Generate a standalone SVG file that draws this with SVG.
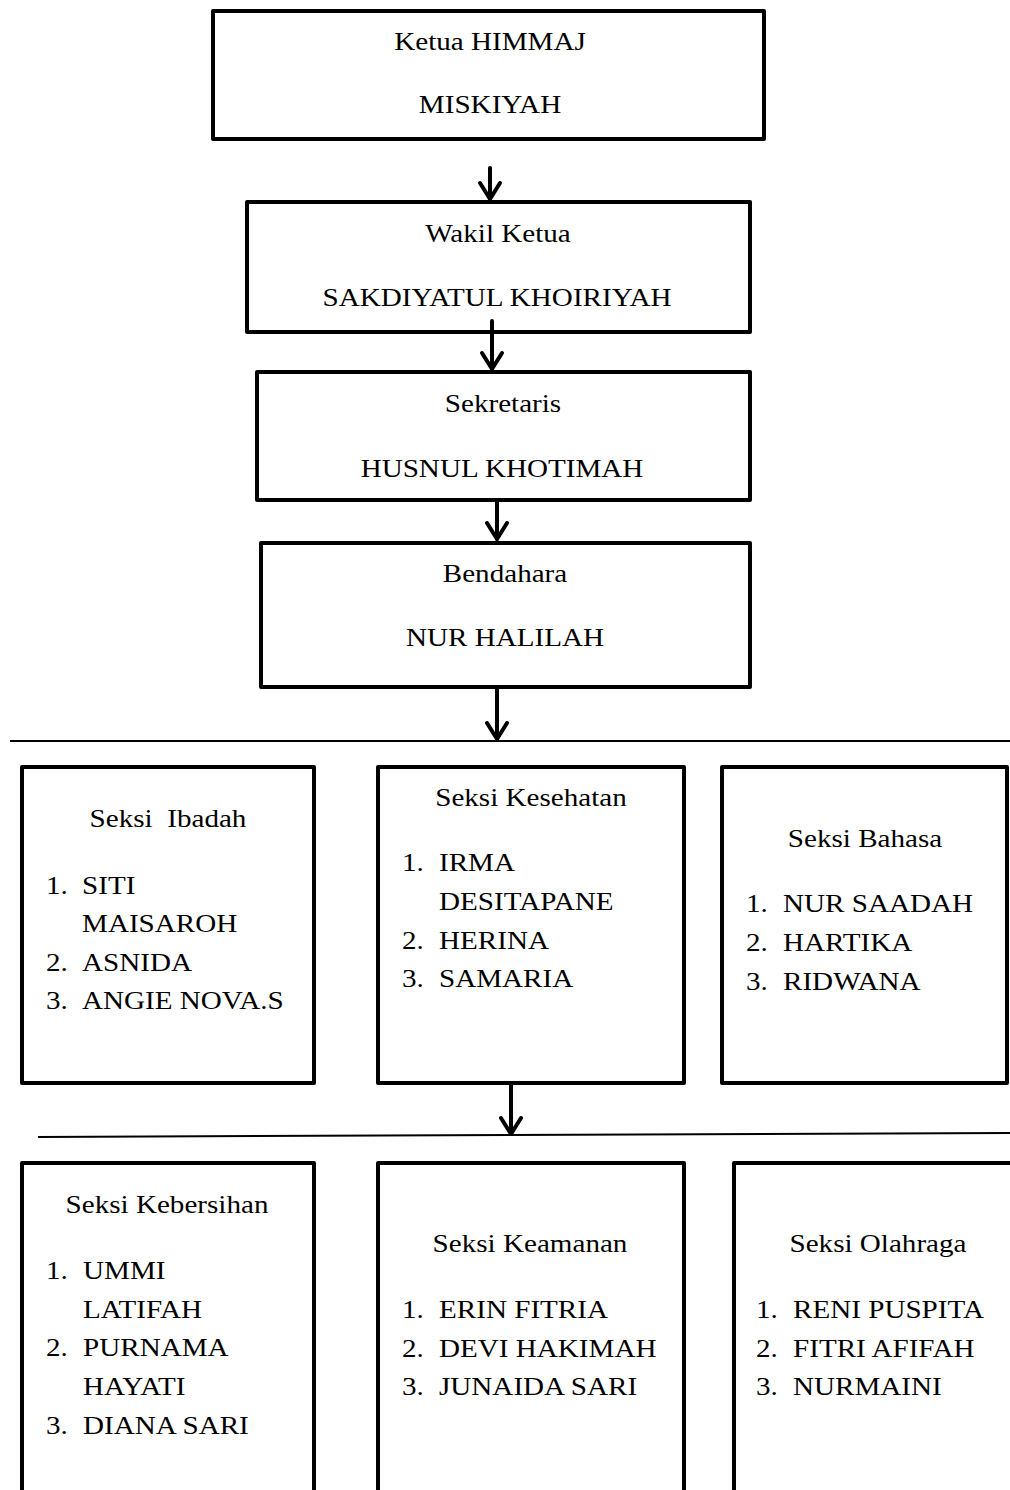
<svg xmlns="http://www.w3.org/2000/svg" width="1010" height="1490" viewBox="0 0 1010 1490">
<defs>
<style>
.box{fill:#fff;stroke:#000;stroke-width:4;stroke-linejoin:round}
.t{font-family:"Liberation Serif","Times New Roman",serif;font-size:26px;fill:#000}
.c{text-anchor:middle}
.ln{stroke:#000;stroke-width:2;fill:none}
.ar{stroke:#000;stroke-width:4;fill:none;stroke-linecap:round}
</style>
<marker id="ah" markerUnits="userSpaceOnUse" viewBox="-20 -14 24 28" markerWidth="24" markerHeight="28" refX="0" refY="0" orient="auto">
<path d="M-16,-10 L0,0 L-16,10" fill="none" stroke="#000" stroke-width="4" stroke-linecap="round" stroke-linejoin="round"/>
</marker>
</defs>
<rect width="1010" height="1490" fill="#fff"/>

<g id="ketua">
<rect class="box" x="213" y="11" width="551" height="128"/>
<text class="t c" transform="translate(490 50) scale(1.12 1)">Ketua HIMMAJ</text>
<text class="t c" transform="translate(490 113) scale(1.12 1)">MISKIYAH</text>
</g>
<g id="wakil">
<rect class="box" x="247" y="202" width="503" height="130"/>
<text class="t c" transform="translate(498 242) scale(1.12 1)">Wakil Ketua</text>
<text class="t c" transform="translate(497 306) scale(1.12 1)">SAKDIYATUL KHOIRIYAH</text>
</g>
<g id="sekretaris">
<rect class="box" x="257" y="372" width="493" height="128"/>
<text class="t c" transform="translate(503 412) scale(1.12 1)">Sekretaris</text>
<text class="t c" transform="translate(502 477) scale(1.12 1)">HUSNUL KHOTIMAH</text>
</g>
<g id="bendahara">
<rect class="box" x="261" y="543" width="489" height="144"/>
<text class="t c" transform="translate(505 582) scale(1.12 1)">Bendahara</text>
<text class="t c" transform="translate(505 646) scale(1.12 1)">NUR HALILAH</text>
</g>

<g id="seksi-ibadah">
<rect class="box" x="22" y="767" width="292" height="316"/>
<text class="t c" transform="translate(168 827) scale(1.12 1)" xml:space="preserve">Seksi  Ibadah</text>
<text class="t" transform="translate(46 894) scale(1.12 1)">1.</text>
<text class="t" transform="translate(82 894) scale(1.12 1)">SITI</text>
<text class="t" transform="translate(82 932) scale(1.12 1)">MAISAROH</text>
<text class="t" transform="translate(46 971) scale(1.12 1)">2.</text>
<text class="t" transform="translate(82 971) scale(1.12 1)">ASNIDA</text>
<text class="t" transform="translate(46 1009) scale(1.12 1)">3.</text>
<text class="t" transform="translate(82 1009) scale(1.12 1)">ANGIE NOVA.S</text>
</g>
<g id="seksi-kesehatan">
<rect class="box" x="378" y="767" width="306" height="316"/>
<text class="t c" transform="translate(531 806) scale(1.12 1)">Seksi Kesehatan</text>
<text class="t" transform="translate(402 871) scale(1.12 1)">1.</text>
<text class="t" transform="translate(439 871) scale(1.12 1)">IRMA</text>
<text class="t" transform="translate(439 910) scale(1.12 1)">DESITAPANE</text>
<text class="t" transform="translate(402 949) scale(1.12 1)">2.</text>
<text class="t" transform="translate(439 949) scale(1.12 1)">HERINA</text>
<text class="t" transform="translate(402 987) scale(1.12 1)">3.</text>
<text class="t" transform="translate(439 987) scale(1.12 1)">SAMARIA</text>
</g>
<g id="seksi-bahasa">
<rect class="box" x="722" y="767" width="285" height="316"/>
<text class="t c" transform="translate(865 847) scale(1.12 1)">Seksi Bahasa</text>
<text class="t" transform="translate(746 912) scale(1.12 1)">1.</text>
<text class="t" transform="translate(783 912) scale(1.12 1)">NUR SAADAH</text>
<text class="t" transform="translate(746 951) scale(1.12 1)">2.</text>
<text class="t" transform="translate(783 951) scale(1.12 1)">HARTIKA</text>
<text class="t" transform="translate(746 990) scale(1.12 1)">3.</text>
<text class="t" transform="translate(783 990) scale(1.12 1)">RIDWANA</text>
</g>

<g id="seksi-kebersihan">
<rect class="box" x="22" y="1163" width="292" height="340"/>
<text class="t c" transform="translate(167 1213) scale(1.12 1)">Seksi Kebersihan</text>
<text class="t" transform="translate(46 1279) scale(1.12 1)">1.</text>
<text class="t" transform="translate(83 1279) scale(1.12 1)">UMMI</text>
<text class="t" transform="translate(83 1318) scale(1.12 1)">LATIFAH</text>
<text class="t" transform="translate(46 1356) scale(1.12 1)">2.</text>
<text class="t" transform="translate(83 1356) scale(1.12 1)">PURNAMA</text>
<text class="t" transform="translate(83 1395) scale(1.12 1)">HAYATI</text>
<text class="t" transform="translate(46 1434) scale(1.12 1)">3.</text>
<text class="t" transform="translate(83 1434) scale(1.12 1)">DIANA SARI</text>
</g>
<g id="seksi-keamanan">
<rect class="box" x="378" y="1163" width="306" height="340"/>
<text class="t c" transform="translate(530 1252) scale(1.12 1)">Seksi Keamanan</text>
<text class="t" transform="translate(402 1318) scale(1.12 1)">1.</text>
<text class="t" transform="translate(439 1318) scale(1.12 1)">ERIN FITRIA</text>
<text class="t" transform="translate(402 1357) scale(1.12 1)">2.</text>
<text class="t" transform="translate(439 1357) scale(1.12 1)">DEVI HAKIMAH</text>
<text class="t" transform="translate(402 1395) scale(1.12 1)">3.</text>
<text class="t" transform="translate(439 1395) scale(1.12 1)">JUNAIDA SARI</text>
</g>
<g id="seksi-olahraga">
<rect class="box" x="734" y="1163" width="290" height="340"/>
<text class="t c" transform="translate(878 1252) scale(1.12 1)">Seksi Olahraga</text>
<text class="t" transform="translate(756 1318) scale(1.12 1)">1.</text>
<text class="t" transform="translate(793 1318) scale(1.12 1)">RENI PUSPITA</text>
<text class="t" transform="translate(756 1357) scale(1.12 1)">2.</text>
<text class="t" transform="translate(793 1357) scale(1.12 1)">FITRI AFIFAH</text>
<text class="t" transform="translate(756 1395) scale(1.12 1)">3.</text>
<text class="t" transform="translate(793 1395) scale(1.12 1)">NURMAINI</text>
</g>

<g id="connectors">
<line class="ln" x1="10" y1="741" x2="1010" y2="741"/>
<line class="ln" x1="38" y1="1137" x2="1010" y2="1133"/>
<line class="ar" x1="490" y1="168" x2="490" y2="199" marker-end="url(#ah)"/>
<line class="ar" x1="492" y1="321" x2="492" y2="369" marker-end="url(#ah)"/>
<line class="ar" x1="497" y1="502" x2="497" y2="539" marker-end="url(#ah)"/>
<line class="ar" x1="497" y1="689" x2="497" y2="739" marker-end="url(#ah)"/>
<line class="ar" x1="511" y1="1085" x2="511" y2="1134" marker-end="url(#ah)"/>
</g>
</svg>
